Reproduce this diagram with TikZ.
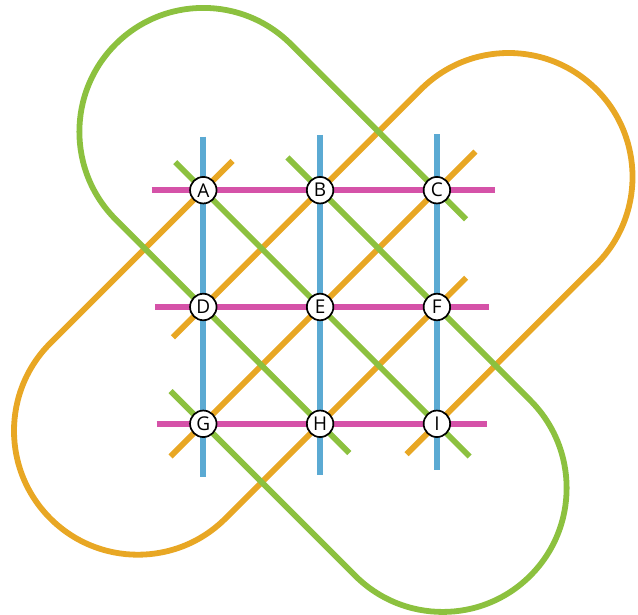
\documentclass[tikz,border=0pt]{standalone}
\usepackage{fontspec}
\setmainfont{Open Sans}
\definecolor{korange}{HTML}{E8A724}
\definecolor{kgreen}{HTML}{8CC13F}
\definecolor{kblue}{HTML}{5BAAD3}
\definecolor{kmag}{HTML}{D552A8}
\tikzset{
  band/.style={line width=5.8pt},
  orangeband/.style={band, draw=korange},
  greenband/.style={band, draw=kgreen},
  blueband/.style={band, draw=kblue},
  magband/.style={band, draw=kmag},
  vertex/.style={circle, draw=black, fill=white, line width=1.7pt,
    minimum size=26.5pt, inner sep=0pt,
    font=\fontsize{19}{19}\selectfont}
}
\begin{document}
\begin{tikzpicture}[x=116.8pt, y=116.8pt]
\useasboundingbox (-2.7406,-2.637) rectangle (2.7218,2.6284);
% node positions
\coordinate (pA) at (-1,1);  \coordinate (pB) at (0,1);  \coordinate (pC) at (1,1);
\coordinate (pD) at (-1,0);  \coordinate (pE) at (0,0);  \coordinate (pF) at (1,0);
\coordinate (pG) at (-1,-1); \coordinate (pH) at (0,-1); \coordinate (pI) at (1,-1);
% orange band ends
\coordinate (o1) at (-0.75,1.25);
\coordinate (o1t) at (-2.31,-0.31);
\coordinate (o4) at (1.25,0.25);
\coordinate (o2) at (-1.26,-0.26);
\coordinate (o2t) at (0.864,1.864);
\coordinate (o5) at (0.74,-1.26);
\coordinate (o3a) at (-1.28,-1.28);
\coordinate (o3b) at (1.33,1.33);
% green band ends
\coordinate (g5) at (1.25,0.75);
\coordinate (g5t) at (-0.25,2.25);
\coordinate (g2) at (0.25,-1.25);
\coordinate (g4) at (-0.28,1.28);
\coordinate (g4t) at (1.8,-0.8);
\coordinate (g1) at (-1.28,-0.72);
\coordinate (g3a) at (-1.24,1.24);
\coordinate (g3b) at (1.28,-1.28);
% orange loops
\draw[orangeband] (o1) -- (o1t) arc[start angle=135, end angle=315, radius=123.9pt] -- (o4);
\draw[orangeband] (o2) -- (o2t) arc[start angle=135, end angle=-45, radius=123.9pt] -- (o5);
\draw[orangeband] (o3a) -- (o3b);
% green loops
\draw[greenband] (g5) -- (g5t) arc[start angle=45, end angle=225, radius=123.9pt] -- (g2);
\draw[greenband] (g4) -- (g4t) arc[start angle=45, end angle=-135, radius=123.9pt] -- (g1);
\draw[greenband] (g3a) -- (g3b);
% blue verticals
\coordinate (b1t) at (-1,1.458); \coordinate (b1b) at (-1,-1.453);
\coordinate (b2t) at (0,1.473);  \coordinate (b2b) at (0,-1.438);
\coordinate (b3t) at (1,1.481);  \coordinate (b3b) at (1,-1.396);
\draw[blueband] (b1t) -- (b1b);
\draw[blueband] (b2t) -- (b2b);
\draw[blueband] (b3t) -- (b3b);
% magenta horizontals
\coordinate (m1l) at (-1.442,1); \coordinate (m1r) at (1.497,1);
\coordinate (m2l) at (-1.413,0); \coordinate (m2r) at (1.449,0);
\coordinate (m3l) at (-1.399,-1); \coordinate (m3r) at (1.426,-1);
\draw[magband] (m1l) -- (m1r);
\draw[magband] (m2l) -- (m2r);
\draw[magband] (m3l) -- (m3r);
% nodes
\node[vertex] (A) at (pA) {A};
\node[vertex] (B) at (pB) {B};
\node[vertex] (C) at (pC) {C};
\node[vertex] (D) at (pD) {D};
\node[vertex] (E) at (pE) {E};
\node[vertex] (F) at (pF) {F};
\node[vertex] (G) at (pG) {G};
\node[vertex] (H) at (pH) {H};
\node[vertex] (I) at (pI) {I};
\end{tikzpicture}
\end{document}
